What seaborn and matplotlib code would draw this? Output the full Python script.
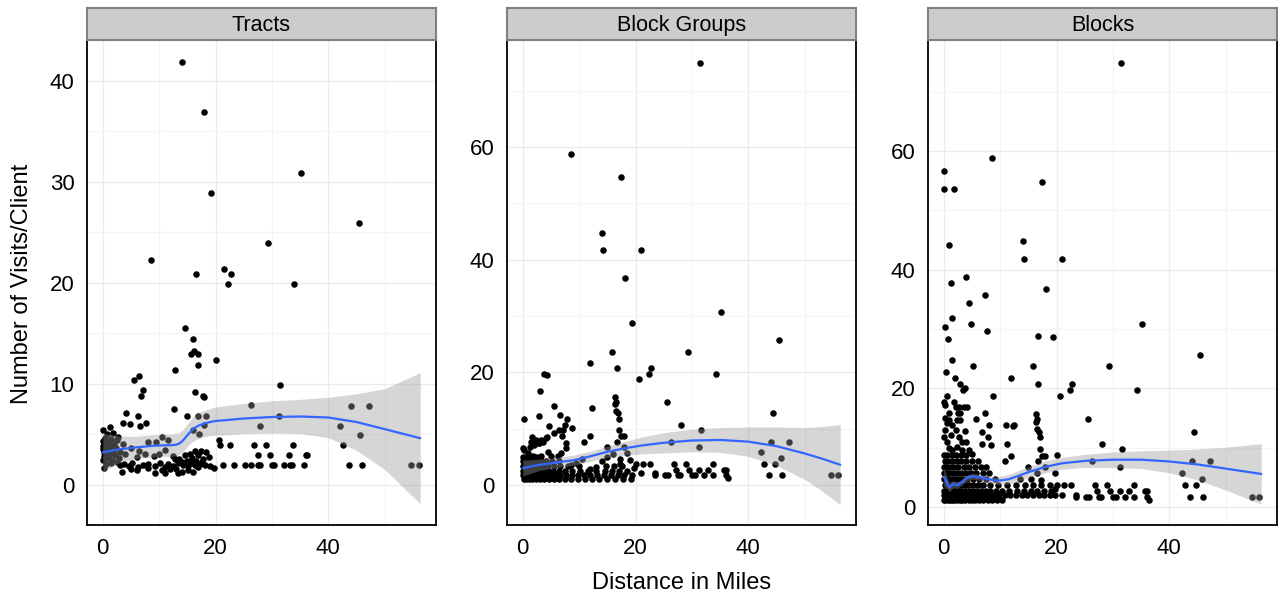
import matplotlib
matplotlib.use("Agg")
import matplotlib.pyplot as plt
import seaborn as sns
import pandas as pd
import numpy as np
from matplotlib.ticker import MultipleLocator

# estilo base, la fuente se pone despues de set_style
sns.set_style("white")
plt.rcParams['font.family'] = ['Liberation Sans', 'DejaVu Sans']
plt.rcParams['text.color'] = 'black'

# ---------------- datos ----------------
# Tracts: (distancia, visitas)
tracts_xy = [
    (14.1, 41.9), (18.0, 36.9), (19.2, 28.9), (35.1, 30.9), (45.5, 25.9), (29.3, 23.9), (8.5, 22.3),
    (16.6, 20.9), (21.5, 21.4), (22.7, 20.9), (22.2, 19.9), (34.0, 19.9),
    (14.6, 15.5), (16.0, 14.4), (16.2, 13.2), (15.6, 12.9), (16.9, 12.9), (16.8, 11.9), (20.0, 12.3),
    (12.8, 11.4), (5.5, 10.4), (6.5, 10.8), (7.1, 9.4), (6.8, 8.8), (16.4, 9.2), (17.7, 8.8), (18.0, 8.7),
    (31.5, 9.9), (12.7, 7.5), (4.2, 7.1), (6.2, 6.8), (3.6, 6.1), (4.8, 6.0), (6.6, 5.8), (7.6, 6.1),
    (14.9, 6.8), (16.8, 6.8), (18.3, 6.8), (0.0, 5.4), (1.35, 5.7), (2.7, 4.75), (26.3, 7.85), (27.8, 5.8),
    (31.2, 6.8), (18.0, 5.9), (16.0, 5.4), (17.0, 5.0),
    (44.1, 7.8), (47.2, 7.8), (42.1, 5.8), (45.6, 4.9), (42.6, 3.9), (43.7, 1.9), (46.0, 1.9),
    (54.6, 1.9), (56.0, 1.9),
    (26.8, 3.9), (28.9, 3.9), (33.8, 3.9), (22.5, 3.9), (20.6, 4.4), (20.8, 3.9),
    (27.5, 2.9), (29.6, 2.9), (33.0, 2.9), (36.0, 2.9), (36.3, 2.9),
    (26.3, 1.9), (27.5, 1.9), (27.8, 1.9), (30.0, 1.9), (30.3, 1.9), (32.1, 1.9), (33.2, 1.9),
    (33.5, 1.9), (35.6, 1.9), (21.3, 1.9), (23.3, 1.9), (25.2, 1.9),
    (3.0, 1.9), (3.7, 2.0), (4.6, 1.8), (5.2, 2.1), (6.3, 1.7), (7.2, 1.9), (8.1, 2.0), (9.2, 1.8),
    (10.2, 2.1), (11.0, 1.7), (11.6, 2.0), (12.5, 1.8), (13.4, 2.1), (14.3, 1.9), (15.2, 1.8),
    (15.7, 2.1), (16.3, 1.9), (17.2, 2.0), (18.1, 1.9), (19.0, 1.8), (19.8, 1.6), (16.8, 1.7),
    (17.6, 2.2), (15.0, 2.3), (14.0, 2.2), (13.0, 1.5),
    (3.4, 1.3), (6.1, 1.4), (9.3, 1.2), (11.0, 1.2), (13.4, 1.2), (14.0, 1.3), (15.2, 1.4), (16.0, 1.3),
    (8.0, 1.6), (5.0, 1.5), (10.5, 1.4), (12.0, 1.5),
    (13.5, 2.5), (14.5, 2.9), (15.8, 2.6), (16.3, 3.3), (16.9, 2.9), (17.5, 3.3), (18.3, 3.2), (18.8, 2.7),
    (15.5, 3.0), (12.8, 2.5), (17.8, 2.5), (16.5, 2.3),
    (4.0, 3.0), (5.0, 3.6), (6.0, 2.7), (7.5, 3.0), (8.0, 4.2), (9.0, 2.8), (10.0, 3.0), (10.5, 4.7),
    (11.0, 3.4), (12.5, 2.8), (3.5, 4.0), (6.5, 3.3), (9.5, 4.2), (11.5, 4.4),
    (0.0, 4.3), (0.1, 3.8), (0.2, 3.2), (0.3, 2.8), (0.0, 3.5), (0.4, 4.6), (0.5, 3.0), (0.6, 4.0),
    (0.8, 3.5), (1.0, 2.6), (1.0, 4.2), (1.2, 3.0), (1.3, 3.8), (1.5, 4.5), (1.6, 2.4), (1.8, 3.3),
    (2.0, 4.0), (2.2, 2.9), (2.4, 3.6), (2.6, 4.4), (2.8, 2.6), (3.0, 3.2), (0.2, 1.6), (0.5, 2.0),
    (1.4, 2.1), (2.5, 2.2), (0.7, 5.0), (1.9, 5.1), (0.1, 2.4),
]

# puntos que salen igual en Block Groups y Blocks
common_xy = [
    (31.4, 74.9), (8.6, 58.8), (17.4, 54.7), (14.1, 44.8), (14.3, 41.8), (21.0, 41.8), (18.1, 36.7),
    (19.3, 28.7), (35.1, 30.8), (15.8, 23.7), (29.3, 23.7), (45.5, 25.7), (12.0, 21.7), (16.7, 20.7),
    (22.7, 20.7), (22.3, 19.7), (20.6, 18.8), (34.2, 19.7), (25.6, 14.8), (16.4, 15.7), (16.3, 14.3),
    (16.6, 14.8), (12.3, 13.7), (44.3, 12.7), (16.5, 13.2), (16.8, 12.7), (17.0, 11.8), (28.0, 10.7),
    (31.6, 9.8), (11.9, 8.7), (10.9, 7.7), (17.0, 9.8), (17.4, 8.7), (17.9, 8.7), (47.2, 7.7),
    (44.1, 7.7), (42.2, 5.8), (45.8, 4.8), (42.7, 3.8), (44.7, 3.8), (43.7, 1.7), (46.0, 1.7),
    (54.6, 1.7), (55.9, 1.7), (31.2, 6.7), (26.2, 7.7), (16.7, 7.7), (15.0, 6.8), (17.9, 6.8),
    (20.0, 3.8), (21.3, 3.7), (22.5, 3.7), (19.7, 3.0), (20.9, 2.1), (23.4, 2.1), (26.8, 3.7),
    (28.9, 3.7), (33.8, 3.7), (27.1, 2.7), (29.4, 2.7), (31.3, 2.7), (32.8, 2.7), (35.7, 2.7),
    (36.0, 2.7), (23.4, 1.7), (25.2, 1.7), (25.8, 1.7), (27.6, 1.7), (27.9, 1.7), (30.0, 1.7),
    (30.6, 1.7), (32.2, 1.7), (33.8, 1.7), (36.1, 1.7), (36.4, 1.2), (17.3, 4.6), (17.3, 3.8),
]

# Block Groups, zona cercana
bg_near_xy = [
    (3.8, 19.7), (4.3, 19.5), (3.1, 16.7), (5.5, 14.0), (0.2, 11.7), (2.8, 12.2), (4.6, 10.5),
    (6.6, 12.5), (7.8, 11.7), (7.4, 10.7), (7.1, 9.8), (8.7, 10.2), (6.5, 9.8), (6.9, 8.7), (4.3, 8.6),
    (4.1, 8.3), (2.3, 8.0), (1.7, 8.5), (2.9, 7.5), (3.2, 8.0), (7.6, 7.4), (5.5, 9.2), (1.3, 6.8),
    (2.0, 7.1), (0.0, 6.5), (0.3, 6.2), (0.9, 5.6), (1.5, 7.6), (2.1, 7.9), (2.9, 7.4), (3.5, 7.6),
    (1.8, 5.1), (2.5, 4.9), (3.2, 5.1), (6.2, 5.1), (6.8, 5.7), (7.6, 6.6), (4.4, 5.9), (5.0, 5.1),
    (15.0, 5.0), (16.0, 5.5), (14.0, 4.2), (13.0, 3.2), (12.0, 2.8), (10.5, 4.6), (9.5, 3.9),
    (8.5, 3.5), (18.5, 5.6), (19.0, 4.5),
    (0.2, 1.0), (0.6, 1.0), (1.1, 1.0), (1.7, 1.0), (2.3, 1.0), (3.0, 1.0), (3.8, 1.0), (4.6, 1.0),
    (5.5, 1.0), (6.5, 1.0), (7.5, 1.0), (8.6, 1.0), (9.8, 1.0), (11.0, 1.0), (12.3, 1.0), (13.6, 1.0),
    (15.0, 1.0), (16.4, 1.0), (17.8, 1.0), (19.2, 1.0),
    (0.0, 1.7), (0.4, 1.7), (0.9, 1.7), (1.4, 1.7), (2.0, 1.7), (2.6, 1.7), (3.3, 1.7), (4.0, 1.7),
    (4.8, 1.7), (5.7, 1.7), (6.6, 1.7), (7.6, 1.7), (8.7, 1.7), (9.8, 1.7), (10.9, 1.7), (12.0, 1.7),
    (13.2, 1.7), (14.4, 1.7), (15.6, 1.7), (16.8, 1.7), (18.0, 1.7), (19.3, 1.7),
    (0.1, 2.5), (0.5, 2.5), (1.0, 2.5), (1.6, 2.5), (2.2, 2.5), (2.9, 2.5), (3.7, 2.5), (4.5, 2.5),
    (5.4, 2.5), (6.4, 2.5), (7.5, 2.5), (8.8, 2.5), (10.1, 2.5), (11.5, 2.5), (13.0, 2.5), (14.5, 2.5),
    (15.8, 2.5), (17.0, 2.5), (18.4, 2.5),
    (0.0, 3.3), (0.4, 3.3), (0.9, 3.3), (1.5, 3.3), (2.1, 3.3), (2.8, 3.3), (3.6, 3.3), (4.5, 3.3),
    (5.5, 3.3), (6.6, 3.3), (8.0, 3.3), (10.0, 3.3), (14.8, 3.3), (16.2, 3.3), (17.6, 3.3),
    (0.1, 4.2), (0.6, 4.2), (1.1, 4.2), (1.7, 4.2), (2.4, 4.2), (3.2, 4.2), (4.1, 4.2), (5.2, 4.2),
    (6.5, 4.2), (0.0, 5.0), (0.5, 5.0), (1.2, 5.0), (2.0, 5.0),
]

# Blocks, zona cercana
blocks_near_xy = [
    (0.1, 56.7), (0.0, 53.6), (1.8, 53.6), (1.0, 44.1), (1.3, 37.7), (3.9, 38.8), (7.3, 35.7),
    (4.4, 34.4), (1.4, 31.8), (0.2, 30.4), (4.9, 30.8), (7.7, 29.7), (0.8, 28.3), (16.7, 28.8),
    (1.5, 24.8), (5.2, 23.8), (0.4, 22.7), (2.0, 21.8), (2.8, 20.7), (3.4, 19.7), (3.7, 20.1),
    (8.7, 18.8), (0.6, 18.7), (0.0, 17.7), (0.2, 17.2), (1.8, 17.7), (2.1, 16.9), (2.7, 16.9),
    (3.5, 16.9), (4.1, 16.9), (2.5, 15.8), (2.9, 15.8), (0.9, 14.7), (2.4, 14.7), (2.9, 14.7),
    (1.5, 13.9), (2.1, 13.0), (2.7, 11.9), (3.8, 12.8), (0.0, 11.9), (0.6, 11.0), (0.9, 9.9),
    (1.5, 9.6), (2.4, 10.2), (3.2, 9.6), (4.4, 9.6), (5.0, 9.0), (5.8, 14.8), (7.3, 15.8), (8.0, 13.8),
    (6.7, 12.7), (7.8, 11.8), (8.3, 10.4), (6.8, 10.6), (11.1, 13.8), (12.4, 13.8), (11.2, 10.7),
    (20.1, 8.8), (0.3, 13.0), (1.2, 12.2), (3.3, 11.0), (4.0, 10.9), (1.0, 15.8), (0.3, 15.0),
    (0.5, 14.2),
    (0.0, 1.2), (0.3, 1.2), (0.7, 1.2), (1.1, 1.2), (1.5, 1.2), (1.9, 1.2), (2.3, 1.2), (2.8, 1.2),
    (3.3, 1.2), (3.8, 1.2), (4.4, 1.2), (5.0, 1.2), (5.6, 1.2), (6.3, 1.2), (7.0, 1.2), (7.8, 1.2),
    (8.6, 1.2), (9.5, 1.2), (10.4, 1.2),
    (0.1, 2.0), (0.4, 2.0), (0.8, 2.0), (1.2, 2.0), (1.6, 2.0), (2.0, 2.0), (2.5, 2.0), (3.0, 2.0),
    (3.5, 2.0), (4.1, 2.0), (4.7, 2.0), (5.3, 2.0), (6.0, 2.0), (6.8, 2.0), (7.5, 2.0), (8.3, 2.0),
    (9.0, 2.0), (9.8, 2.0), (10.8, 2.0), (11.8, 2.0), (12.8, 2.0), (13.8, 2.0), (14.8, 2.0),
    (15.8, 2.0), (16.8, 2.0), (17.8, 2.0), (18.8, 2.0), (19.8, 2.0),
    (0.0, 2.8), (0.5, 2.8), (0.9, 2.8), (1.3, 2.8), (1.8, 2.8), (2.2, 2.8), (2.7, 2.8), (3.2, 2.8),
    (3.8, 2.8), (4.3, 2.8), (5.0, 2.8), (5.8, 2.8), (6.6, 2.8), (7.4, 2.8), (8.2, 2.8), (9.2, 2.8),
    (10.4, 2.8), (11.6, 2.8), (13.0, 2.8), (14.2, 2.8), (15.4, 2.8), (16.6, 2.8), (17.8, 2.8),
    (19.0, 2.8),
    (0.2, 3.7), (0.6, 3.7), (1.0, 3.7), (1.5, 3.7), (2.0, 3.7), (2.6, 3.7), (3.1, 3.7), (3.7, 3.7),
    (4.4, 3.7), (5.1, 3.7), (6.0, 3.7), (7.0, 3.7), (8.2, 3.7), (9.6, 3.7), (11.2, 3.7), (12.8, 3.7),
    (14.4, 3.7), (15.9, 3.7), (18.9, 3.7),
    (0.0, 4.7), (0.4, 4.7), (0.9, 4.7), (1.4, 4.7), (2.0, 4.7), (2.7, 4.7), (3.4, 4.7), (4.2, 4.7),
    (5.2, 4.7), (6.3, 4.7), (7.5, 4.7), (9.0, 4.7), (13.5, 4.7), (15.5, 4.7),
    (0.1, 5.8), (0.5, 5.8), (1.0, 5.8), (1.6, 5.8), (2.3, 5.8), (3.0, 5.8), (3.9, 5.8), (4.8, 5.8),
    (5.8, 5.8), (6.9, 5.8), (8.0, 5.8), (16.5, 5.8), (19.8, 5.8),
    (0.0, 6.8), (0.6, 6.8), (1.2, 6.8), (1.9, 6.8), (2.6, 6.8), (3.5, 6.8), (4.4, 6.8), (5.5, 6.8),
    (6.6, 6.8), (7.4, 6.8),
    (0.2, 7.8), (0.8, 7.8), (1.5, 7.8), (2.3, 7.8), (3.1, 7.8), (4.0, 7.8), (5.0, 7.8), (6.0, 7.8),
    (0.0, 8.8), (0.6, 8.8), (1.4, 8.8), (2.2, 8.8), (3.0, 8.8), (3.9, 8.8),
]

# curvas suavizadas (loess) y ancho de la banda
tracts_sx = [0, 3, 6, 9, 11, 12, 13, 13.5, 14, 14.5, 15, 15.5, 16, 16.5, 17, 17.5, 18, 19, 20, 22,
             25, 30, 35, 40, 45, 50, 56.3]
tracts_fit = [3.2, 3.5, 3.7, 3.85, 3.9, 3.9, 3.95, 4.05, 4.25, 4.55, 4.9, 5.2, 5.5, 5.7, 5.85, 5.95,
              6.05, 6.2, 6.3, 6.4, 6.55, 6.7, 6.75, 6.65, 6.2, 5.5, 4.6]
tracts_se = [1.9, 1.3, 1.1, 1.1, 1.1, 1.1, 1.1, 1.1, 1.1, 1.1, 1.1, 1.15, 1.2, 1.25, 1.3, 1.3, 1.3,
             1.35, 1.4, 1.45, 1.5, 1.6, 1.7, 2.0, 2.8, 4.0, 6.5]

bg_sx = [0, 3, 6, 9, 12, 15, 18, 21, 25, 30, 35, 40, 45, 50, 53, 56.3]
bg_fit = [3.0, 3.6, 4.0, 4.4, 5.1, 5.9, 6.5, 7.0, 7.5, 7.9, 8.0, 7.7, 6.9, 5.6, 4.7, 3.6]
bg_se = [1.4, 1.0, 0.9, 0.9, 0.9, 1.0, 1.2, 1.5, 1.8, 2.0, 2.2, 2.6, 3.4, 4.6, 5.7, 7.1]

blocks_sx = [0, 0.5, 1, 1.6, 2.4, 3.2, 4, 5, 6, 7, 8, 9, 10, 11.5, 13, 15, 18, 21, 25, 30, 35, 40,
             45, 50, 56.3]
blocks_fit = [5.1, 4.2, 3.3, 3.9, 3.7, 4.2, 4.9, 5.2, 5.1, 4.9, 4.7, 4.5, 4.5, 4.7, 5.2, 5.9, 6.8, 7.4,
              7.8, 8.0, 8.0, 7.7, 7.2, 6.5, 5.6]
blocks_se = [1.6, 1.0, 0.7, 0.6, 0.5, 0.5, 0.5, 0.5, 0.5, 0.5, 0.6, 0.6, 0.7, 0.8, 0.9, 0.9, 1.0, 1.0,
             1.1, 1.3, 1.5, 1.9, 2.6, 3.6, 5.1]

panel_names = ["Tracts", "Block Groups", "Blocks"]

# ---------------- figura ----------------
W, H = 1278, 600
fig = plt.figure(figsize=(W / 100, H / 100), dpi=100)

paneles = [
    (tracts_xy, tracts_sx, tracts_fit, tracts_se, (-4.0, 44.05), 10),
    (common_xy + bg_near_xy, bg_sx, bg_fit, bg_se, (-7.1, 79.0), 20),
    (common_xy + blocks_near_xy, blocks_sx, blocks_fit, blocks_se, (-3.0, 78.7), 20),
]
lefts = [87, 507, 928]

for i, (pts, sx, fit, se, ylim, paso) in enumerate(paneles):
    left = lefts[i] / W
    ax = fig.add_axes([left, 75 / H, 349 / W, 485 / H])
    df = pd.DataFrame(pts, columns=["dist", "visitas"])
    sns.scatterplot(data=df, x="dist", y="visitas", ax=ax, color="black", s=22,
                    linewidth=0, zorder=2)

    sx = np.array(sx)
    fit = np.array(fit)
    se = np.array(se)
    ax.fill_between(sx, fit - se, fit + se, color="#999999", alpha=0.4, linewidth=0, zorder=3)
    sns.lineplot(x=sx, y=fit, ax=ax, color="#3366FF", linewidth=1.6, zorder=4)

    ax.set_xlim(-2.8, 59.1)
    ax.set_ylim(*ylim)
    ax.xaxis.set_major_locator(MultipleLocator(20))
    ax.xaxis.set_minor_locator(MultipleLocator(10))
    ax.yaxis.set_major_locator(MultipleLocator(paso))
    ax.yaxis.set_minor_locator(MultipleLocator(paso / 2))
    ax.grid(which="major", color="#ebebeb", linewidth=1.0)
    ax.grid(which="minor", color="#f4f4f4", linewidth=0.8)
    ax.set_axisbelow(True)
    ax.set_xlabel("")
    ax.set_ylabel("")
    ax.tick_params(which="major", direction="out", length=5, width=1.0, color="black",
                   labelsize=16, labelcolor="black", pad=4)
    ax.tick_params(which="minor", length=0)
    for lado in ["left", "bottom", "right"]:
        ax.spines[lado].set_color("black")
        ax.spines[lado].set_linewidth(1.3)
    ax.spines["top"].set_visible(False)

    # tira con el titulo del panel
    strip = fig.add_axes([left, 560 / H, 349 / W, 32 / H])
    strip.set_facecolor("#cccccc")
    strip.set_xticks([])
    strip.set_yticks([])
    for s in strip.spines.values():
        s.set_color("#808080")
        s.set_linewidth(1.5)
    strip.text(0.5, 0.45, panel_names[i], ha="center", va="center", fontsize=15.5,
               color="black", transform=strip.transAxes)

fig.text(682 / W, 17 / H, "Distance in Miles", ha="center", va="center", fontsize=17, color="black")
fig.text(22 / W, (H - 284) / H, "Number of Visits/Client", ha="center", va="center",
         rotation=90, fontsize=17, color="black")

fig.savefig("out.png", dpi=100)
